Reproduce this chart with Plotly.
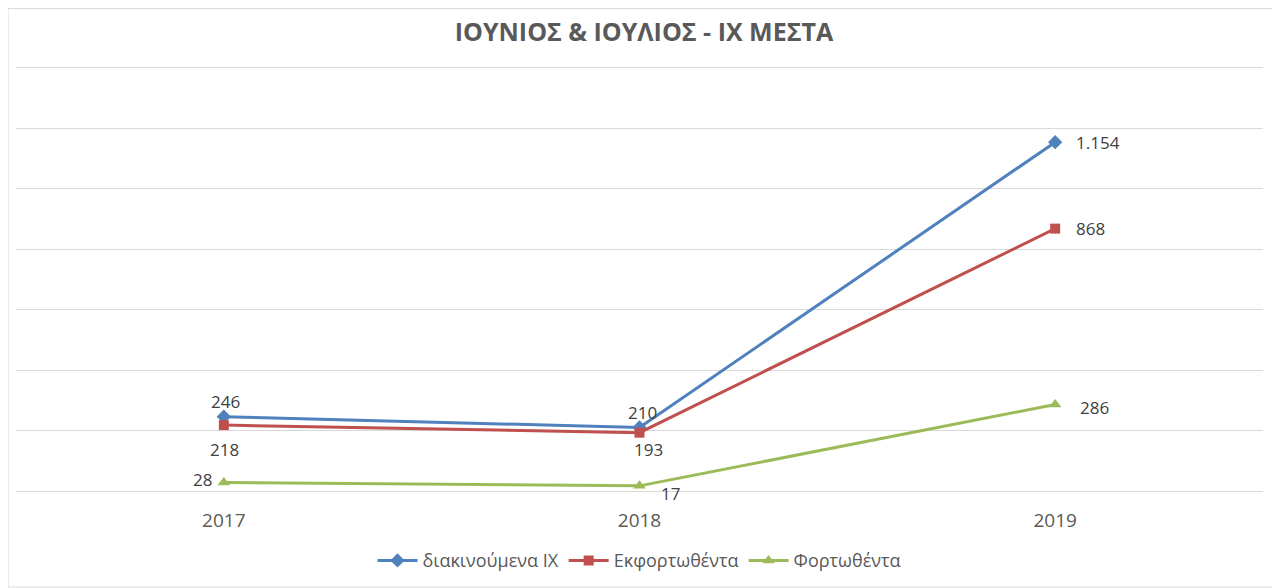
import plotly.graph_objects as go

years = ["2017", "2018", "2019"]
diakinoumena = [246, 210, 1154]
ekfortothenta = [218, 193, 868]
fortothenta = [28, 17, 286]

series_names = ["διακινούμενα ΙΧ", "Εκφορτωθέντα", "Φορτωθέντα"]
title_text = "ΙΟΥΝΙΟΣ & ΙΟΥΛΙΟΣ - ΙΧ ΜΕΣΤΑ"


def fmt(v):
    # greek style thousands separator
    return f"{v:,}".replace(",", ".")


FONT = "Open Sans"

# colour, marker, marker size, label offsets (px) per point
styles = [
    ("#4F81BD", "diamond", 11, [(2, 15), (3, 15), (43, 0)]),
    ("#C0504D", "square", 10, [(1, -24), (9, -17), (35, 0)]),
    ("#9BBB59", "triangle-up", 11, [(-21, 3), (31, -8), (39, -3)]),
]

fig = go.Figure()

for name, vals, (color, symbol, size, offsets) in zip(
        series_names, [diakinoumena, ekfortothenta, fortothenta], styles):
    fig.add_trace(go.Scatter(
        x=years,
        y=vals,
        name=name,
        mode="lines+markers",
        line=dict(color=color, width=3),
        marker=dict(color=color, symbol=symbol, size=size),
        cliponaxis=False,
    ))
    # category index used for the label position (years look numeric)
    for i, (v, (dx, dy)) in enumerate(zip(vals, offsets)):
        fig.add_annotation(x=i, y=v, text=fmt(v), showarrow=False,
                           xshift=dx, yshift=dy,
                           font=dict(family=FONT, size=17, color="#404040"))

# faint outer border of the chart area
fig.add_shape(type="rect", xref="paper", yref="paper",
              x0=-0.0064, x1=1.012, y0=-0.2259, y1=1.1353,
              line=dict(color="#D9D9D9", width=1), layer="below")

fig.update_layout(
    width=1272,
    height=580,
    margin=dict(l=8, r=17, t=58, b=97, autoexpand=False),
    paper_bgcolor="white",
    plot_bgcolor="white",
    title=dict(text="<b>" + title_text + "</b>", x=0.5, xanchor="center",
               y=0.9586, yanchor="middle",
               font=dict(family=FONT, size=25, color="#595959")),
    showlegend=True,
    legend=dict(orientation="h", x=0.5, xanchor="center", y=-0.164, yanchor="middle",
                font=dict(family=FONT, size=18, color="#595959"),
                itemwidth=40, tracegroupgap=0),
    font=dict(family=FONT),
)

fig.update_xaxes(
    type="category",
    range=[-0.5, 2.5],
    showgrid=False,
    showline=True,
    linecolor="#D9D9D9",
    linewidth=1,
    ticks="",
    tickfont=dict(family=FONT, size=19, color="#595959"),
    ticklabelstandoff=12,
)
fig.update_yaxes(
    range=[0, 1406],
    dtick=200,
    showgrid=True,
    gridcolor="#D9D9D9",
    gridwidth=1,
    showticklabels=False,
    zeroline=False,
    ticks="",
)

fig.write_html("out.html")
